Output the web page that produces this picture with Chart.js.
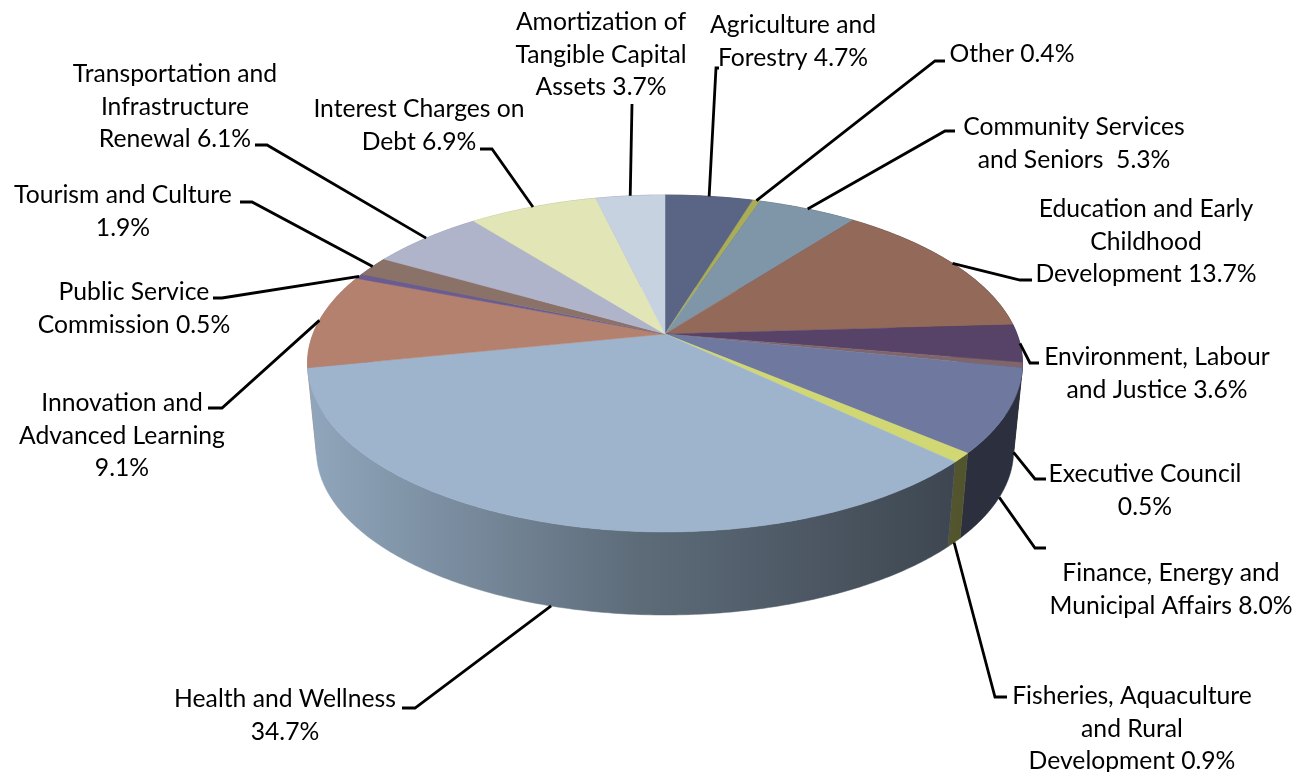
<!DOCTYPE html>
<html>
<head>
<meta charset="utf-8">
<title>Expenditure by department</title>
<script src="https://cdn.jsdelivr.net/npm/chart.js@4"></script>
<style>
  html, body { margin: 0; padding: 0; background: #fff; }
  canvas { display: block; }
</style>
</head>
<body>
<canvas id="budgetPie" width="1307" height="772"></canvas>
<script>
// Label text is wrapped by hand; the percentage goes on the end of the last line
const categories = [
  ['Agriculture and', 'Forestry '],
  ['Other '],
  ['Community Services', 'and Seniors  '],
  ['Education and Early', 'Childhood', 'Development '],
  ['Environment, Labour', 'and Justice '],
  ['Executive Council', ''],
  ['Finance, Energy and', 'Municipal Affairs '],
  ['Fisheries, Aquaculture', 'and Rural', 'Development '],
  ['Health and Wellness', ''],
  ['Innovation and', 'Advanced Learning', ''],
  ['Public Service', 'Commission '],
  ['Tourism and Culture', ''],
  ['Transportation and', 'Infrastructure', 'Renewal '],
  ['Interest Charges on', 'Debt '],
  ['Amortization of', 'Tangible Capital', 'Assets '],
];
const shares = [4.7, 0.4, 5.3, 13.7, 3.6, 0.5, 8.0, 0.9, 34.7, 9.1, 0.5, 1.9, 6.1, 6.9, 3.7];
const sliceColors = [
  '#5a6484', '#a9ad58', '#7f95a8', '#93695a', '#574268',
  '#80656a', '#6f79a0', '#d1d873', '#9db4cc', '#b5816f',
  '#6a5c90', '#8a7268', '#b0b4ca', '#e2e6b6', '#c6d2e0',
];

// Label placement: centre x and the y of the first line
const labelAnchors = [
  [793, 25], [1012, 54], [1074, 127], [1146, 209], [1157, 357],
  [1145, 474], [1171, 573], [1132, 696], [285, 699], [122, 403],
  [134, 292], [123, 195], [175, 74], [419, 109], [601, 22],
];
// Leader lines: elbow and end, the start comes from the slice itself
const leaderBends = [
  [[716, 68], [719, 68]], [[935, 61], [945, 61]], [[945, 131], [955, 131]],
  [[1020, 280], [1032, 280]], [[1030, 363], [1039, 363]], [[1035, 479], [1046, 479]],
  [[1035, 548], [1046, 548]], [[995, 697], [1007, 697]], [[415, 708], [402, 708]],
  [[222, 408], [208, 408]], [[222, 298], [213, 298]], [[252, 202], [240, 202]],
  [[267, 145], [255, 145]], [[492, 149], [480, 149]], [[632, 104], [632, 104]],
];

// Tilted pie: the apex sits above the middle of the ellipse because of the perspective
const view = { cx: 665, cy: 334, rx: 352, ry: 163.3, persp: -0.175, floorScale: 0.975, depth: 88 };
const LINE_HEIGHT = 32.6;
const FONT = '24.7px Lato, "Open Sans", sans-serif';

function rimPoint(angle, onFloor) {
  const u = Math.cos(angle);
  const v = Math.sin(angle);
  const d = 1 + view.persp * v;
  let x = view.rx * u / d;
  let y = view.ry * v / d;
  if (onFloor) {
    x *= view.floorScale;
    y = y * view.floorScale + view.depth;
  }
  return [view.cx + x, view.cy + y];
}

function traceArc(ctx, start, end, onFloor, first) {
  const steps = Math.max(2, Math.ceil(Math.abs(end - start) / 0.01));
  for (let s = 0; s <= steps; s++) {
    const p = rimPoint(start + (end - start) * s / steps, onFloor);
    if (first && s === 0) ctx.moveTo(p[0], p[1]);
    else ctx.lineTo(p[0], p[1]);
  }
}

function scaleColor(hex, f) {
  const n = parseInt(hex.slice(1), 16);
  const c = [n >> 16, (n >> 8) & 255, n & 255].map((k) => Math.round(k * f));
  return `rgb(${c[0]}, ${c[1]}, ${c[2]})`;
}

// Side wall gets darker from left to right
function wallFill(ctx, color) {
  const g = ctx.createLinearGradient(310, 0, 960, 0);
  g.addColorStop(0, scaleColor(color, 0.92));
  g.addColorStop(0.5, scaleColor(color, 0.6));
  g.addColorStop(1, scaleColor(color, 0.39));
  return g;
}

const tiltedPie = {
  id: 'tiltedPie',
  beforeDatasetsDraw(chart) {
    const ctx = chart.ctx;
    const arcs = chart.getDatasetMeta(0).data;
    const order = arcs.map((_, i) => i).sort((a, b) =>
      Math.sin((arcs[a].startAngle + arcs[a].endAngle) / 2) - Math.sin((arcs[b].startAngle + arcs[b].endAngle) / 2));

    ctx.save();
    ctx.lineJoin = 'round';

    // walls first, the far ones end up hidden under the top
    order.forEach((i) => {
      const arc = arcs[i];
      const fill = wallFill(ctx, sliceColors[i]);
      ctx.beginPath();
      traceArc(ctx, arc.startAngle, arc.endAngle, false, true);
      traceArc(ctx, arc.endAngle, arc.startAngle, true, false);
      ctx.closePath();
      ctx.fillStyle = fill;
      ctx.strokeStyle = fill;
      ctx.lineWidth = 0.5;
      ctx.fill();
      ctx.stroke();
    });

    // top surface
    arcs.forEach((arc, i) => {
      ctx.beginPath();
      ctx.moveTo(view.cx, view.cy);
      traceArc(ctx, arc.startAngle, arc.endAngle, false, false);
      ctx.closePath();
      ctx.fillStyle = sliceColors[i];
      ctx.strokeStyle = sliceColors[i];
      ctx.lineWidth = 0.5;
      ctx.fill();
      ctx.stroke();
    });

    // leader lines
    ctx.strokeStyle = '#000';
    ctx.lineWidth = 2.8;
    ctx.lineJoin = 'miter';
    arcs.forEach((arc, i) => {
      const mid = (arc.startAngle + arc.endAngle) / 2;
      const start = rimPoint(mid, Math.sin(mid) > 0.1);
      ctx.beginPath();
      ctx.moveTo(start[0], start[1]);
      leaderBends[i].forEach((p) => ctx.lineTo(p[0], p[1]));
      ctx.stroke();
    });

    // labels
    ctx.fillStyle = '#000';
    ctx.font = FONT;
    ctx.textAlign = 'center';
    ctx.textBaseline = 'middle';
    categories.forEach((lines, i) => {
      lines.forEach((line, n) => {
        const text = n === lines.length - 1 ? line + shares[i].toFixed(1) + '%' : line;
        ctx.fillText(text, labelAnchors[i][0], labelAnchors[i][1] + n * LINE_HEIGHT);
      });
    });

    ctx.restore();
    return false; // the flat arcs are replaced by the tilted ones above
  },
};

new Chart(document.getElementById('budgetPie'), {
  type: 'pie',
  data: {
    labels: categories.map((lines) => lines.join(' ').trim()),
    datasets: [{ data: shares, backgroundColor: sliceColors, borderWidth: 0 }],
  },
  options: {
    responsive: false,
    animation: false,
    rotation: 0,
    plugins: {
      legend: { display: false },
      tooltip: { enabled: false },
    },
  },
  plugins: [tiltedPie],
});
</script>
</body>
</html>
